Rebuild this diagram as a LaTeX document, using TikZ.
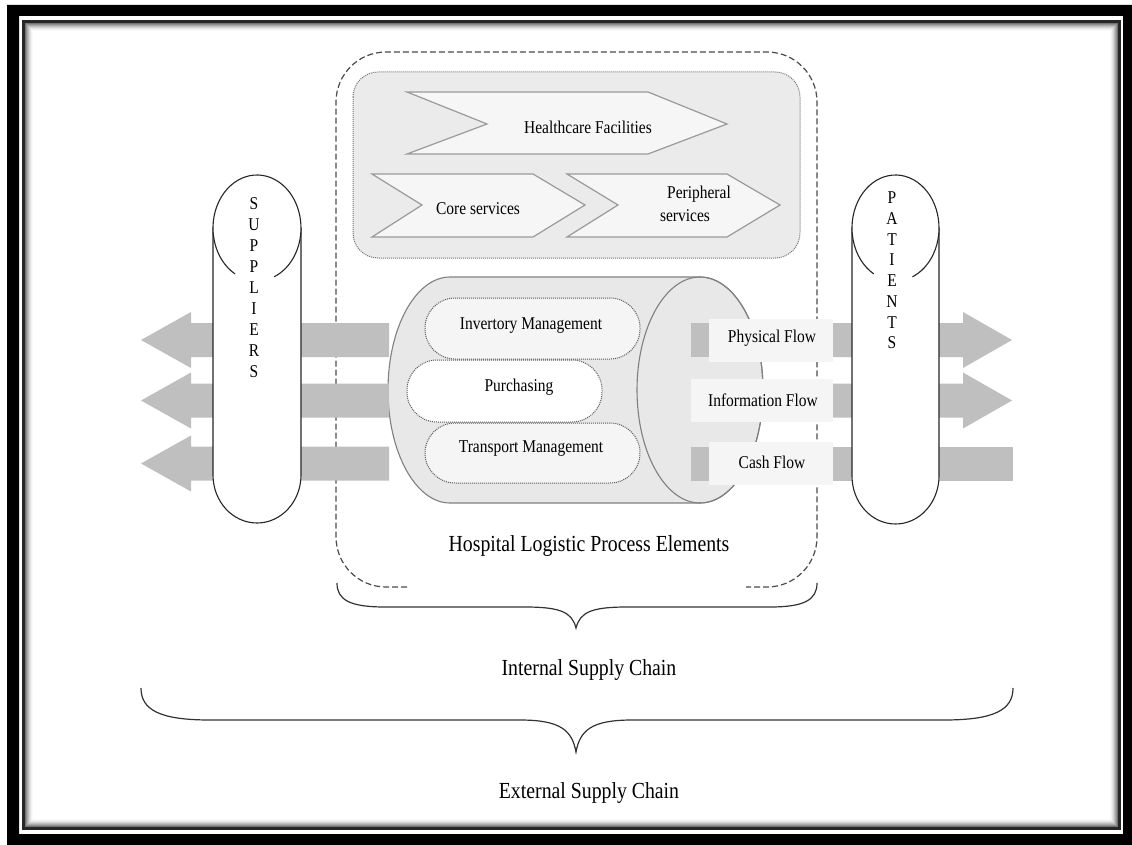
\documentclass[tikz,border=0pt]{standalone}
\usepackage{fontspec}
\setmainfont[FakeStretch=0.86]{Liberation Serif}
\definecolor{bargray}{HTML}{BFBFBF}
\definecolor{panelfill}{HTML}{EBEBEB}
\definecolor{chevfill}{HTML}{F6F6F6}
\definecolor{chevline}{HTML}{9A9A9A}
\definecolor{cylfill}{HTML}{E8E8E8}
\definecolor{cylline}{HTML}{808080}
\definecolor{boxfill}{HTML}{F5F5F5}
\definecolor{inkgray}{HTML}{333333}
\tikzset{
  small/.style={font=\fontsize{18}{20}\selectfont, inner sep=0pt},
  big/.style={font=\fontsize{23}{26}\selectfont, inner sep=0pt},
  chev/.style={draw=chevline, fill=chevfill, line width=1.2pt},
  flowbar/.style={fill=bargray},
  pill/.style={draw=black!65, densely dotted, line width=1pt, rounded corners=30pt, inner sep=0pt},
  flowbox/.style={fill=boxfill, inner sep=0pt, minimum height=43pt},
  tube/.style={draw=black!85, fill=white, line width=1.1pt},
  bracepath/.style={draw=inkgray, line width=1.2pt},
}
\begin{document}
\begin{tikzpicture}[x=1pt, y=-1pt]
\useasboundingbox (0,0) rectangle (1132,845);
\fill[white] (0,0) rectangle (1132,845);

% framed border with inner shadow
\fill[black, even odd rule] (7,5) rectangle (1132,845) (19,16) rectangle (1123,834);
\draw[black!85, line width=3pt] (23.5,21.5) rectangle (1119.5,828.5);
\foreach \i/\c in {1/55,2/44,3/34,4/25,5/17,6/10,7/5,8/2}
  \draw[black!\c, line width=1pt] ({24.5+\i},{22.5+\i}) rectangle ({1118.5-\i},{827.5-\i});

% healthcare facilities panel
\draw[draw=black!55, densely dotted, fill=panelfill, line width=1pt, rounded corners=25pt]
  (353,72) rectangle (800,258);
\draw[chev] (407,92) -- (648,92) -- (727,124) -- (648,154) -- (407,154) -- (487,124) -- cycle;
\draw[chev] (372,174) -- (533,174) -- (585,205) -- (533,237) -- (372,237) -- (422,205) -- cycle;
\draw[chev] (567,174) -- (727,174) -- (780,205) -- (727,237) -- (567,237) -- (618,205) -- cycle;
\node[small] (hf) at (588,127) {Healthcare Facilities};
\node[small] (core) at (478,209) {Core services};
\node[small] (peri1) at (699,194) {Peripheral};
\node[small] (peri2) at (685,216) {services};

% hospital boundary (open at the bottom)
\draw[draw=black!70, line width=1.2pt, dash pattern=on 6pt off 3pt, rounded corners=50pt]
  (407,587) -- (336,587) -- (336,52) -- (817,52) -- (817,587) -- (746,587);

% logistic process cylinder
\draw[draw=cylline, fill=cylfill, line width=1.1pt]
  (450,277) -- (700,277) arc[start angle=270, end angle=450, x radius=63, y radius=113]
  -- (450,503) arc[start angle=90, end angle=270, x radius=62, y radius=113] -- cycle;
\draw[draw=cylline, line width=1.1pt] (700,390) ellipse[x radius=63, y radius=113];

\node[pill, fill=boxfill, minimum width=215pt, minimum height=61pt] (invbox) at (532.5,328.5) {};
\node[pill, fill=white, minimum width=195pt, minimum height=62pt] (purbox) at (504.5,391) {};
\node[pill, fill=boxfill, minimum width=215pt, minimum height=60pt] (trbox) at (532.5,453) {};
\node[small] (inv) at (531,326) {Invertory Management};
\node[small] (pur) at (519,387) {Purchasing};
\node[small] (tr) at (531,449) {Transport Management};

% flows towards suppliers
\foreach \y in {340,400.5,463.5}
  \fill[flowbar] (389,{\y-17}) -- (191,{\y-17}) -- (191,{\y-28}) -- (141,\y)
     -- (191,{\y+28}) -- (191,{\y+17}) -- (389,{\y+17}) -- cycle;

% flows towards patients
\foreach \y in {340,400.5}
  \fill[flowbar] (833,{\y-17}) -- (963,{\y-17}) -- (963,{\y-28}) -- (1012,\y)
     -- (963,{\y+28}) -- (963,{\y+17}) -- (833,{\y+17}) -- cycle;
\fill[flowbar] (833,446.5) rectangle (1013,480.5);
\fill[flowbar] (691,323) rectangle (709,357);
\fill[flowbar] (691,446.5) rectangle (709,480.5);

\node[flowbox, minimum width=124pt] (phys) at (771,340.5) {};
\node[flowbox, minimum width=142pt] (info) at (762,400.5) {};
\node[flowbox, minimum width=124pt] (cash) at (771,463.5) {};
\node[small] (physt) at (772,338) {Physical Flow};
\node[small] (infot) at (763,400.5) {Information Flow};
\node[small] (casht) at (772,462) {Cash Flow};

% suppliers tube
\draw[tube] (213,228) -- (213,475) arc[start angle=180, end angle=0, x radius=44, y radius=48] -- (301,228);
\fill[white] (257,228) ellipse[x radius=44, y radius=53];
\draw[black!85, line width=1.1pt] (257,228) ++(120:44 and 53)
  arc[start angle=120, end angle=427, x radius=44, y radius=53];
\foreach \c [count=\i] in {S,U,P,P,L,I,E,R,S}
  \node[small] (sup\i) at (254,{204+21*(\i-1)}) {\c};

% patients tube
\draw[tube] (852,228) -- (852,476) arc[start angle=180, end angle=0, x radius=43.5, y radius=48] -- (939,228);
\fill[white] (895.5,228) ellipse[x radius=43.5, y radius=53];
\draw[black!85, line width=1.1pt] (895.5,228) ++(120:43.5 and 53)
  arc[start angle=120, end angle=427, x radius=43.5, y radius=53];
\foreach \c [count=\i] in {P,A,T,I,E,N,T,S}
  \node[small] (pat\i) at (892,{198+20.7*(\i-1)}) {\c};

% captions and braces
\node[big] (hlpe) at (589,546) {Hospital Logistic Process Elements};
\draw[bracepath] (337,583) .. controls (337,600) and (350,607) .. (385,607) -- (525,607)
  .. controls (560,607) and (572,612) .. (576,628)
  .. controls (580,612) and (592,607) .. (627,607) -- (770,607)
  .. controls (804,607) and (817,600) .. (817,583);
\node[big] (isc) at (589,670) {Internal Supply Chain};
\draw[bracepath] (141,688) .. controls (141,710) and (160,720) .. (210,720) -- (520,720)
  .. controls (560,720) and (572,730) .. (576,752)
  .. controls (580,730) and (592,720) .. (632,720) -- (944,720)
  .. controls (994,720) and (1013,710) .. (1013,688);
\node[big] (esc) at (589,793) {External Supply Chain};
\end{tikzpicture}
\end{document}
